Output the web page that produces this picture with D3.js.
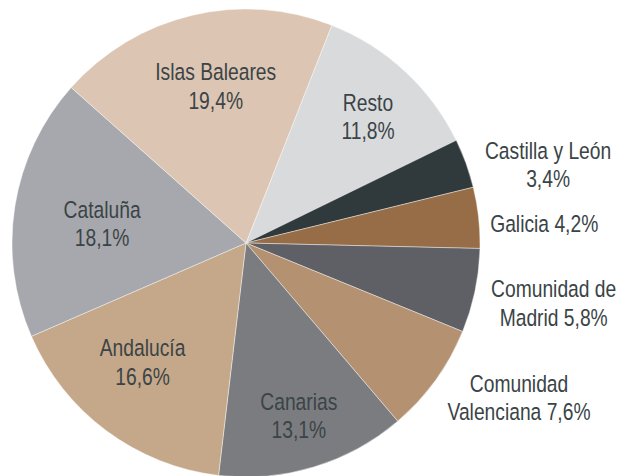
<!DOCTYPE html>
<html>
<head>
<meta charset="utf-8">
<script src="https://cdn.jsdelivr.net/npm/d3@7"></script>
<style>
    body { margin: 0; background: #fff; }
    text { font-family: "Liberation Sans", Arial, sans-serif; fill: #3a4446; }
</style>
</head>
<body>
<div id="chart"></div>
<script>
// regions, clockwise starting from the slice right of Islas Baleares
const regions = ["Resto", "Castilla y León", "Galicia", "Comunidad de Madrid", "Comunidad Valenciana",
    "Canarias", "Andalucía", "Cataluña", "Islas Baleares"];
const shares = [11.8, 3.4, 4.2, 5.8, 7.6, 13.1, 16.6, 18.1, 19.4];
const shareLabels = ["11,8%", "3,4%", "4,2%", "5,8%", "7,6%", "13,1%", "16,6%", "18,1%", "19,4%"];
// how each label is broken into lines
const labelLines = [
    ["Resto", "11,8%"],
    ["Castilla y León", "3,4%"],
    ["Galicia 4,2%"],
    ["Comunidad de", "Madrid 5,8%"],
    ["Comunidad", "Valenciana 7,6%"],
    ["Canarias", "13,1%"],
    ["Andalucía", "16,6%"],
    ["Cataluña", "18,1%"],
    ["Islas Baleares", "19,4%"]
];
const colors = ["#d9dadc", "#30393b", "#976d47", "#5f6065", "#b39171", "#7b7c80", "#c5a88a", "#a7a8ad", "#dcc5b3"];

const width = 625, height = 476;
const cx = 246, cy = 243, radius = 234;
const START = 21.5 * Math.PI / 180;
const FONT_SIZE = 23.5;
const NARROW = 0.82;   // no narrow font installed, squeeze Liberation Sans instead
const LINE_GAP = 28.5;

// label placement: radius from centre at slice mid angle, then a small nudge
const labelRadius = [165, 300, 300, 300, 300, 165, 165, 165, 165];
const labelNudge = [[10, -5], [20, 24], [0, 13], [14, -1], [30, -21], [5, 15], [-5, -13], [19, 7], [8, 4]];

const svg = d3.select("#chart")
    .append("svg")
    .attr("width", width)
    .attr("height", height);

const g = svg.append("g")
    .attr("transform", "translate(" + cx + "," + cy + ")");

const pie = d3.pie()
    .sort(null)
    .value(function (d, i) { return shares[i]; })
    .startAngle(START)
    .endAngle(START + 2 * Math.PI);

const arcs = pie(regions);

const arc = d3.arc()
    .innerRadius(0)
    .outerRadius(radius);

g.selectAll("path.slice")
    .data(arcs)
    .join("path")
    .attr("class", "slice")
    .attr("d", arc)
    .attr("fill", function (d, i) { return colors[i]; })
    .attr("stroke", "#ffffff")
    .attr("stroke-width", 0.6)
    .attr("stroke-opacity", 0.7);

const labels = g.selectAll("text.label")
    .data(arcs)
    .join("text")
    .attr("class", "label")
    .attr("text-anchor", "middle")
    .style("font-size", FONT_SIZE + "px")
    .attr("transform", function (d, i) {
        const a = (d.startAngle + d.endAngle) / 2;
        const p = d3.pointRadial(a, labelRadius[i]);
        return "translate(" + (p[0] + labelNudge[i][0]) + "," + (p[1] + labelNudge[i][1]) + ") scale(" + NARROW + ",1)";
    });

labels.selectAll("tspan")
    .data(function (d, i) { return labelLines[i].map(function (t, j) { return { t: t, j: j, n: labelLines[i].length }; }); })
    .join("tspan")
    .attr("x", 0)
    .attr("y", function (l) { return (l.j - (l.n - 1) / 2) * LINE_GAP + FONT_SIZE * 0.35; })
    .text(function (l) { return l.t; });
</script>
</body>
</html>
